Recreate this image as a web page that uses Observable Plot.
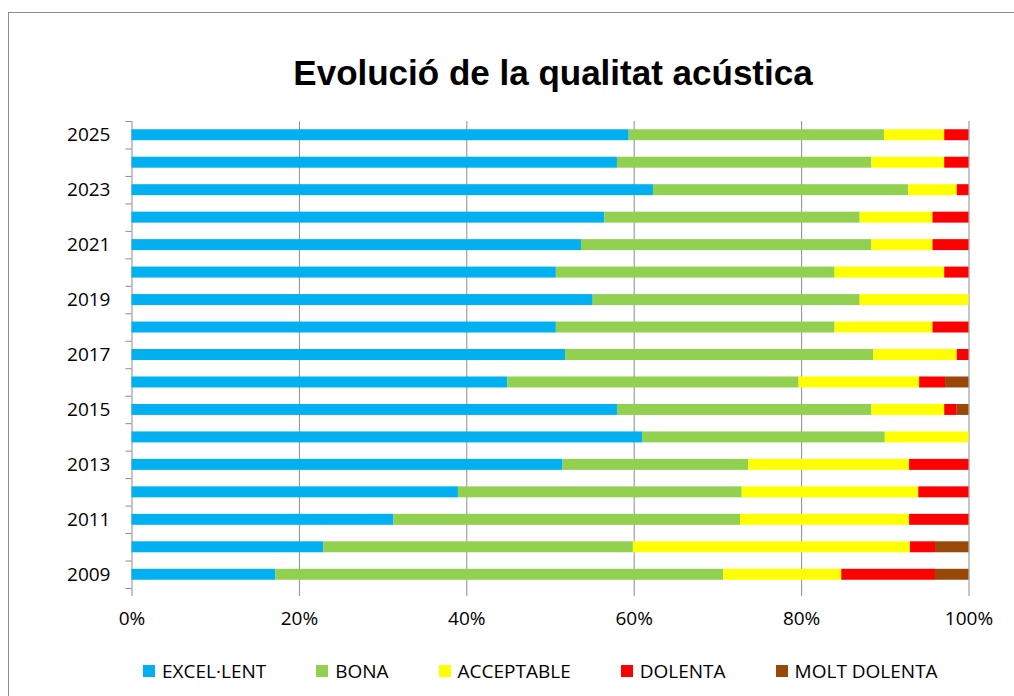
<!DOCTYPE html>
<html><head><meta charset="utf-8">
<script src="https://cdn.jsdelivr.net/npm/d3@7"></script>
<script src="https://cdn.jsdelivr.net/npm/@observablehq/plot@0.6"></script>
<style>
html,body{margin:0;padding:0;background:#fff;overflow:hidden;width:1014px;height:696px;}
#frame{position:absolute;left:8px;top:12px;width:1200px;height:900px;border:1.5px solid #8c8c8c;box-sizing:border-box;}
#title{position:absolute;left:153px;width:800px;top:55px;text-align:center;font:bold 35px/35px "Liberation Sans",Arial,sans-serif;color:#000;}
#chart{position:absolute;left:0;top:0;}
#legend{position:absolute;left:143px;top:655px;height:32px;}
.lg-swatches{font-family:"Open Sans",sans-serif !important;font-size:19px !important;margin:0 !important;min-height:32px !important;color:#000 !important;}
.lg-swatch{margin-right:50px !important;}
.lg-swatch > svg{margin-right:7px !important;}
</style></head>
<body>
<div id="frame"></div>
<div id="title">Evolució de la qualitat acústica</div>
<div id="chart"></div>
<div id="legend"></div>
<script>
const years = ["2025","2024","2023","2022","2021","2020","2019","2018","2017","2016","2015","2014","2013","2012","2011","2010","2009"];
const yearLabels = ["2025","2023","2021","2019","2017","2015","2013","2011","2009"];
const categories = ["EXCEL·LENT","BONA","ACCEPTABLE","DOLENTA","MOLT DOLENTA"];
const colors = ["#00b0f0","#92d050","#ffff00","#ff0000","#984807"];
const xTicks = [0,20,40,60,80,100];

const excellent   = [59.4,58.0,62.3,56.5,53.7,50.7,55.1,50.7,51.8,44.9,58.0,61.0,51.5,39.0,31.3,22.9,17.2];
const bona        = [30.5,30.4,30.5,30.5,34.7,33.3,31.9,33.3,36.8,34.8,30.4,29.0,22.2,33.9,41.4,37.0,53.5];
const acceptable  = [ 7.2, 8.7, 5.8, 8.7, 7.3,13.1,13.0,11.7,10.0,14.4, 8.7,10.0,19.2,21.1,20.2,33.1,14.1];
const dolenta     = [ 2.9, 2.9, 1.4, 4.3, 4.3, 2.9, 0.0, 4.3, 1.4, 3.1, 1.5, 0.0, 7.1, 6.0, 7.1, 3.0,11.2];
const moltDolenta = [ 0.0, 0.0, 0.0, 0.0, 0.0, 0.0, 0.0, 0.0, 0.0, 2.8, 1.4, 0.0, 0.0, 0.0, 0.0, 4.0, 4.0];

const series = [excellent, bona, acceptable, dolenta, moltDolenta];
const data = categories.flatMap((c, i) => years.map((y, j) => ({year: y, category: c, value: series[i][j]})));

const W = 1014, H = 640, mT = 121, mB = 52;
const band = (H - mT - mB) / years.length;
const grid = "#8c8c8c";

const chart = Plot.plot({
  width: W, height: H,
  marginLeft: 131.5, marginRight: 45.5, marginTop: mT, marginBottom: mB,
  style: {fontFamily: '"Open Sans", sans-serif', fontSize: "19px", color: "#000", background: "transparent", overflow: "visible"},
  x: {domain: [0, 100], label: null},
  y: {domain: years, padding: 0, round: false, label: null},
  color: {domain: categories, range: colors},
  marks: [
    Plot.ruleX(xTicks, {stroke: grid, strokeWidth: 1}),
    Plot.barX(data, {x: "value", y: "year", fill: "category", order: categories, insetTop: 8.25, insetBottom: 8.25}),
    Plot.axisX(xTicks, {tickSize: 8, tickPadding: 15, stroke: grid, fill: "#000", label: null, tickFormat: d => d + "%"}),
    Plot.axisY(years, {tickSize: 6, dy: band / 2, text: null, stroke: grid, label: null}),
    Plot.axisY([years[0]], {tickSize: 6, dy: -band / 2, text: null, stroke: grid, label: null}),
    Plot.axisY(yearLabels, {tickSize: 0, tickPadding: 21.5, fill: "#000", label: null})
  ]
});
document.getElementById("chart").appendChild(chart);

const legend = Plot.legend({
  color: {domain: categories, range: colors},
  swatchSize: 12,
  className: "lg"
});
document.getElementById("legend").appendChild(legend);
</script>
</body></html>
